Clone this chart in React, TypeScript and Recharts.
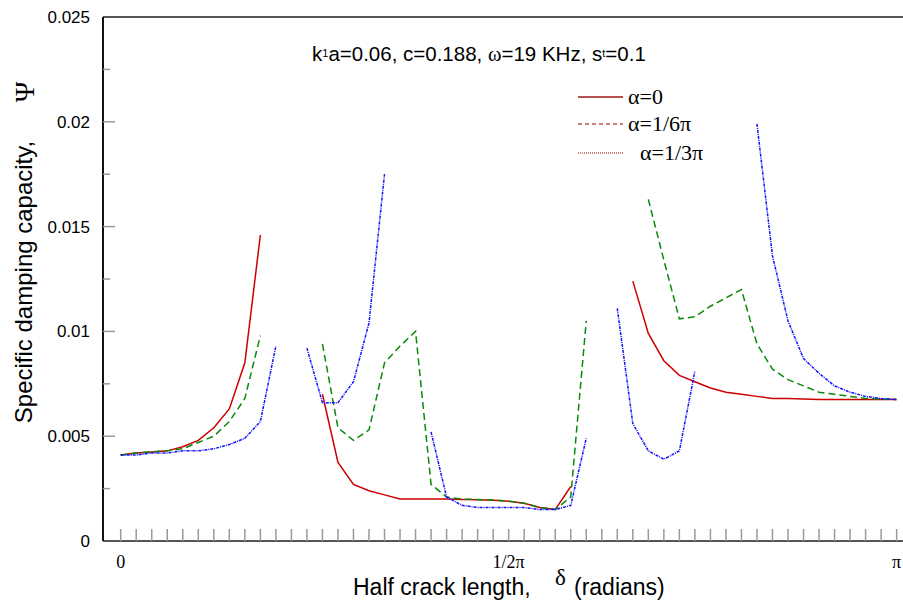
import React from 'react';
import { LineChart, Line, XAxis, YAxis, ReferenceLine } from 'recharts';

// x positions in steps of pi/50 (0 .. 50 = 0 .. pi)
const steps = [
  0, 1, 2, 3, 4, 5, 6, 7, 8, 9, 10, 11, 12, 13, 14, 15, 16, 17, 18, 19, 20, 21, 22, 23, 24, 25,
  26, 27, 28, 29, 30, 31, 32, 33, 34, 35, 36, 37, 38, 39, 40, 41, 42, 43, 44, 45, 46, 47, 48, 49, 50,
];

// alpha = 0
const alpha0 = [
  0.0041, 0.0042, 0.00425, 0.0043, 0.0045, 0.0048, 0.0054, 0.0063, 0.0085, 0.0146,
  null, null, null,
  0.007, 0.00375, 0.0027, 0.0024, 0.0022, 0.002, 0.002, 0.002, 0.002, 0.00198, 0.00197, 0.00195,
  0.0019, 0.0018, 0.0016, 0.0015, 0.0026,
  null, null, null,
  0.0124, 0.0099, 0.0086, 0.0079, 0.0076, 0.0073, 0.0071, 0.007, 0.0069, 0.0068, 0.0068, 0.00677,
  0.00675, 0.00675, 0.00675, 0.00675, 0.00675, 0.00675,
];

// alpha = 1/6 pi
const alpha6 = [
  0.0041, 0.0042, 0.00425, 0.0043, 0.0044, 0.0047, 0.005, 0.0057, 0.0068, 0.0098,
  null, null, null,
  0.0094, 0.0054, 0.0048, 0.0053, 0.0085, 0.0093, 0.01, 0.0027, 0.0021, 0.002, 0.00198, 0.00196,
  0.0019, 0.0018, 0.0016, 0.0015, 0.0021, 0.0105,
  null, null, null,
  0.0163, 0.0134, 0.0106, 0.0107, 0.0112, 0.0116, 0.012, 0.0094, 0.0082, 0.0077, 0.0074, 0.0071,
  0.007, 0.0069, 0.0068, 0.00677, 0.00675,
];

// alpha = 1/3 pi
const alpha3 = [
  0.0041, 0.0041, 0.0042, 0.0042, 0.0043, 0.0043, 0.0044, 0.0046, 0.0049, 0.0057, 0.0093,
  null,
  0.0092, 0.0066, 0.0066, 0.0076, 0.0104, 0.0175,
  null, null,
  0.0052, 0.0021, 0.0017, 0.0016, 0.0016, 0.0016, 0.0016, 0.0015, 0.0015, 0.0017, 0.0049,
  null,
  0.0111, 0.0056, 0.0043, 0.0039, 0.0043, 0.0081,
  null, null, null,
  0.0199, 0.0136, 0.0105, 0.0087, 0.008, 0.0074, 0.0071, 0.0069, 0.0068, 0.00675,
];

const xTickLabels: Record<number, string> = { 0: '0', 25: '1/2\u03c0', 50: '\u03c0' };

const yTicks = [0, 0.0025, 0.005, 0.0075, 0.01, 0.0125, 0.015, 0.0175, 0.02, 0.0225, 0.025];
const yTickLabels = ['0', '', '0.005', '', '0.01', '', '0.015', '', '0.02', '', '0.025'];

const data = steps.map((s, i) => ({
  step: s,
  a0: alpha0[i],
  a6: alpha6[i],
  a3: alpha3[i],
}));

const SANS = '"Liberation Sans", Arial, sans-serif';
const SERIF = '"Liberation Serif", "Times New Roman", serif';

const XTick = (props: any) => {
  const { x, y, payload } = props;
  const label = xTickLabels[payload.value];
  return (
    <g>
      <line x1={x} y1={y} x2={x} y2={y - 12} stroke="#9a9a9a" strokeWidth={1.5} />
      {label && (
        <text x={x} y={y + 27} textAnchor="middle" fontFamily={SERIF} fontSize={18} fill="#000">
          {label}
        </text>
      )}
    </g>
  );
};

const YTick = (props: any) => {
  const { x, y, index } = props;
  const label = yTickLabels[index];
  const major = label !== '';
  return (
    <g>
      {index > 0 && index < yTicks.length - 1 && (
        <line x1={x} y1={y} x2={x + (major ? 12 : 7)} y2={y} stroke="#9a9a9a" strokeWidth={1.5} />
      )}
      {major && (
        <text x={x - 13} y={y + 6} textAnchor="end" fontFamily={SANS} fontSize={17} fill="#000">
          {label}
        </text>
      )}
    </g>
  );
};

const App: React.FC = () => {
  return (
    <div style={{ position: 'absolute', left: 0, top: 0, width: 903, height: 603, background: '#fff' }}>
      <LineChart
        width={903}
        height={603}
        data={data}
        margin={{ top: 17, right: 0, left: 0, bottom: 0 }}
      >
        <XAxis
          dataKey="step"
          type="number"
          domain={[-1.14, 50.41]}
          ticks={steps}
          interval={0}
          allowDataOverflow
          height={62}
          tickSize={0}
          tickMargin={0}
          tick={<XTick />}
          axisLine={{ stroke: '#555', strokeWidth: 2 }}
        />
        <YAxis
          type="number"
          domain={[0, 0.025]}
          ticks={yTicks}
          interval={0}
          allowDataOverflow
          width={103}
          tickSize={0}
          tickMargin={0}
          tick={<YTick />}
          axisLine={{ stroke: '#111', strokeWidth: 2 }}
        />
        <ReferenceLine y={0.025} stroke="#555" strokeWidth={2} />
        <Line
          dataKey="a0"
          type="linear"
          stroke="#cc0000"
          strokeWidth={1.5}
          dot={false}
          activeDot={false}
          isAnimationActive={false}
        />
        <Line
          dataKey="a6"
          type="linear"
          stroke="#0a880a"
          strokeWidth={1.5}
          strokeDasharray="7 4"
          dot={false}
          activeDot={false}
          isAnimationActive={false}
        />
        <Line
          dataKey="a3"
          type="linear"
          stroke="#1010ff"
          strokeWidth={1.5}
          strokeDasharray="3 1 1 1"
          dot={false}
          activeDot={false}
          isAnimationActive={false}
        />
      </LineChart>

      {/* titles and legend drawn over the chart */}
      <svg
        width={903}
        height={603}
        style={{ position: 'absolute', left: 0, top: 0, pointerEvents: 'none' }}
      >
        <text x={312} y={61} fontFamily={SANS} fontSize={20.5} fill="#000">
          k<tspan fontSize={11} dy={-4}>1</tspan>
          <tspan dy={4}>a=0.06, c=0.188, </tspan>
          <tspan fontFamily={SERIF}>{'\u03c9'}</tspan>=19 KHz, s
          <tspan fontSize={11} dy={-4}>t</tspan>
          <tspan dy={4}>=0.1</tspan>
        </text>

        <line x1={578} y1={97} x2={623} y2={97} stroke="#b5524d" strokeWidth={2} />
        <text x={628} y={104} fontFamily={SERIF} fontSize={22} fill="#000">
          {'\u03b1=0'}
        </text>
        <line x1={578} y1={124} x2={623} y2={124} stroke="#a00000" strokeWidth={1} strokeDasharray="4 3" />
        <text x={628} y={131} fontFamily={SERIF} fontSize={22} fill="#000">
          {'\u03b1=1/6\u03c0'}
        </text>
        <line x1={578} y1={153} x2={623} y2={153} stroke="#a00000" strokeWidth={1} strokeDasharray="1 1" />
        <text x={640} y={160} fontFamily={SERIF} fontSize={22} fill="#000">
          {'\u03b1=1/3\u03c0'}
        </text>

        <text
          x={32}
          y={282}
          transform="rotate(-90 32 282)"
          textAnchor="middle"
          fontFamily={SANS}
          fontSize={24}
          fill="#000"
        >
          Specific damping capacity,
        </text>
        <text
          x={34}
          y={92}
          transform="rotate(-90 34 92)"
          textAnchor="middle"
          fontFamily={SERIF}
          fontSize={28}
          fill="#000"
        >
          {'\u03a8'}
        </text>

        <text x={353} y={595} fontFamily={SANS} fontSize={23} fill="#000">
          Half crack length,
        </text>
        <text x={555} y={585} fontFamily={SERIF} fontSize={23} fill="#000">
          {'\u03b4'}
        </text>
        <text x={574} y={595} fontFamily={SANS} fontSize={23} fill="#000">
          (radians)
        </text>
      </svg>
    </div>
  );
};

export default App;
